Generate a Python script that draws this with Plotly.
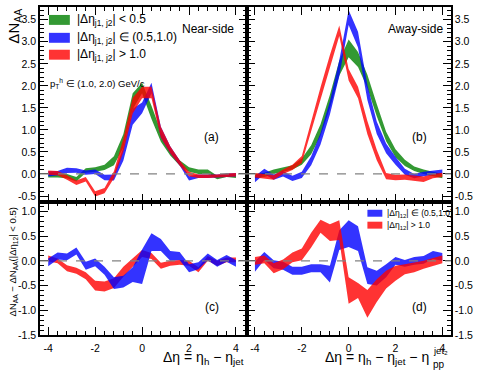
import plotly.graph_objects as go
from plotly.subplots import make_subplots

# eta bins (same for all panels)
deta = [-4.0, -3.6, -3.2, -2.8, -2.4, -2.0, -1.6, -1.2, -0.8, -0.4, 0.0,
        0.4, 0.8, 1.2, 1.6, 2.0, 2.4, 2.8, 3.2, 3.6, 4.0]

# (a) near-side
green_a = [-0.03, -0.03, -0.05, -0.12, 0.08, 0.1, 0.15, 0.3, 0.75, 1.65, 1.95,
           1.4, 0.85, 0.5, 0.25, 0.1, 0.05, 0.05, -0.08, -0.03, -0.05]
green_a_err = [0.05, 0.05, 0.05, 0.05, 0.05, 0.05, 0.06, 0.1, 0.15, 0.18, 0.12,
               0.15, 0.12, 0.08, 0.06, 0.05, 0.05, 0.05, 0.04, 0.04, 0.04]
blue_a = [0.0, 0.02, 0.08, 0.08, 0.03, 0.05, -0.08, -0.08, 0.45, 1.3, 1.5,
          1.95, 0.95, 0.55, 0.25, -0.1, -0.05, -0.05, -0.05, -0.03, -0.02]
blue_a_err = [0.06, 0.05, 0.06, 0.05, 0.05, 0.05, 0.06, 0.07, 0.15, 0.18, 0.12,
              0.12, 0.12, 0.08, 0.06, 0.05, 0.04, 0.04, 0.04, 0.04, 0.04]
red_a = [0.03, 0.02, -0.08, -0.2, -0.12, -0.45, -0.38, -0.02, 0.65, 1.55, 1.85,
         1.85, 0.95, 0.55, 0.25, 0.0, -0.05, -0.05, -0.05, -0.03, -0.02]
red_a_err = [0.05, 0.05, 0.05, 0.05, 0.05, 0.06, 0.06, 0.08, 0.15, 0.18, 0.13,
             0.13, 0.12, 0.08, 0.06, 0.05, 0.04, 0.04, 0.04, 0.04, 0.04]

# (b) away-side
green_b = [-0.05, -0.02, 0.05, 0.1, 0.15, 0.28, 0.55, 1.0, 1.65, 2.4, 2.85,
           2.6, 2.1, 1.45, 0.85, 0.47, 0.25, 0.12, 0.05, 0.0, -0.05]
green_b_err = [0.05, 0.05, 0.05, 0.05, 0.05, 0.07, 0.1, 0.13, 0.15, 0.17, 0.2,
               0.17, 0.15, 0.14, 0.11, 0.09, 0.07, 0.05, 0.05, 0.05, 0.05]
blue_b = [-0.12, 0.06, -0.07, 0.0, -0.1, -0.02, 0.3, 0.8, 1.5, 2.4, 3.55,
          3.05, 1.85, 1.05, 0.58, 0.3, 0.05, -0.05, 0.0, 0.03, 0.05]
blue_b_err = [0.07, 0.06, 0.06, 0.06, 0.06, 0.07, 0.1, 0.13, 0.15, 0.18, 0.17,
              0.18, 0.17, 0.14, 0.11, 0.09, 0.07, 0.05, 0.05, 0.05, 0.05]
red_b = [-0.03, -0.05, -0.08, 0.05, 0.15, 0.33, 1.08, 1.82, 2.55, 3.25, 2.25,
         1.85, 1.05, 0.43, -0.05, -0.08, -0.07, -0.1, -0.12, -0.05, -0.02]
red_b_err = [0.05, 0.05, 0.05, 0.05, 0.06, 0.08, 0.14, 0.15, 0.15, 0.12, 0.13,
             0.13, 0.15, 0.12, 0.07, 0.06, 0.06, 0.06, 0.06, 0.05, 0.05]

# (c) near-side difference
red_c = [0.05, 0.0, -0.15, -0.2, -0.3, -0.5, -0.52, -0.45, -0.22, -0.03, 0.15,
         0.1, -0.1, -0.05, -0.03, -0.05, -0.18, 0.05, -0.05, 0.02, 0.02]
red_c_err = [0.06, 0.05, 0.06, 0.06, 0.07, 0.1, 0.1, 0.1, 0.1, 0.08, 0.07,
             0.06, 0.06, 0.05, 0.05, 0.05, 0.05, 0.05, 0.05, 0.05, 0.05]
blue_c = [-0.03, 0.1, 0.08, 0.2, -0.1, -0.03, -0.2, -0.45, -0.42, -0.28, -0.12,
          0.38, 0.32, 0.1, 0.1, -0.15, -0.1, 0.08, -0.05, 0.05, -0.05]
blue_c_err = [0.08, 0.07, 0.07, 0.07, 0.08, 0.08, 0.08, 0.12, 0.12, 0.15, 0.35,
              0.18, 0.12, 0.1, 0.08, 0.08, 0.07, 0.07, 0.07, 0.07, 0.07]

# (d) away-side difference
blue_d = [-0.12, 0.1, -0.07, -0.1, -0.2, -0.2, -0.15, -0.15, -0.27, 0.42, 0.55,
          0.45, -0.3, -0.35, -0.2, 0.0, -0.05, 0.0, 0.02, 0.12, 0.08]
blue_d_err = [0.1, 0.08, 0.08, 0.08, 0.08, 0.08, 0.08, 0.08, 0.17, 0.2, 0.27,
              0.25, 0.17, 0.15, 0.13, 0.08, 0.07, 0.08, 0.08, 0.08, 0.08]
red_d = [0.0, 0.03, -0.15, -0.07, 0.07, 0.13, 0.42, 0.7, 0.57, 0.62, -0.6,
         -0.6, -0.87, -0.6, -0.38, -0.25, -0.17, -0.13, -0.08, -0.02, 0.03]
red_d_err = [0.08, 0.08, 0.1, 0.1, 0.1, 0.12, 0.15, 0.13, 0.17, 0.2, 0.27,
             0.15, 0.28, 0.23, 0.18, 0.15, 0.1, 0.1, 0.08, 0.08, 0.08]

ytop_ticks = [-0.5, 0.0, 0.5, 1.0, 1.5, 2.0, 2.5, 3.0, 3.5]
ybot_ticks = [-1.5, -1.0, -0.5, 0.0, 0.5, 1.0]
x_ticks = [-4, -2, 0, 2, 4]

GREEN = "rgba(0,128,0,0.8)"
BLUE = "rgba(0,0,255,0.8)"
RED = "rgba(255,0,0,0.8)"
FONT = "Liberation Sans, Arial, sans-serif"

# plot area in pixels: x 40..453, y 5..335
L, R, T, B = 40, 25, 5, 36
W, H = 478, 371
PW, PH = W - L - R, H - T - B


def px(x):
    return (x - L) / PW


def py(y):
    return (H - B - y) / PH


def band(fig, vals, errs, color, row, col):
    up = [v + e for v, e in zip(vals, errs)]
    lo = [v - e for v, e in zip(vals, errs)]
    fig.add_trace(go.Scatter(x=deta + deta[::-1], y=up + lo[::-1], fill="toself",
                             fillcolor=color, mode="lines", line=dict(width=0),
                             hoverinfo="skip", showlegend=False), row=row, col=col)


fig = make_subplots(rows=2, cols=2, horizontal_spacing=0, vertical_spacing=0,
                    column_widths=[208, 205], row_heights=[196, 134])

band(fig, green_a, green_a_err, GREEN, 1, 1)
band(fig, blue_a, blue_a_err, BLUE, 1, 1)
band(fig, red_a, red_a_err, RED, 1, 1)
band(fig, green_b, green_b_err, GREEN, 1, 2)
band(fig, blue_b, blue_b_err, BLUE, 1, 2)
band(fig, red_b, red_b_err, RED, 1, 2)
band(fig, red_c, red_c_err, RED, 2, 1)
band(fig, blue_c, blue_c_err, BLUE, 2, 1)
band(fig, blue_d, blue_d_err, BLUE, 2, 2)
band(fig, red_d, red_d_err, RED, 2, 2)

for r in (1, 2):
    for c in (1, 2):
        fig.add_hline(y=0, line=dict(color="rgb(130,130,130)", width=1.2, dash="dash"),
                      row=r, col=c)

axis_common = dict(showline=True, linecolor="black", linewidth=1.5, mirror="allticks",
                   ticks="inside", ticklen=8, tickwidth=1, tickcolor="black",
                   showgrid=False, zeroline=False,
                   tickfont=dict(family=FONT, size=10.5, color="black"))

for r in (1, 2):
    for c in (1, 2):
        xr = [-4.35, 4.47] if c == 1 else [-4.34, 4.37]
        fig.update_xaxes(range=xr, tickvals=x_ticks, ticktext=[str(t) for t in x_ticks],
                         showticklabels=(r == 2), ticklabelstandoff=3,
                         minor=dict(tickmode="linear", tick0=0, dtick=0.4, ticklen=4,
                                    ticks="inside", tickcolor="black"),
                         **axis_common, row=r, col=c)
        yt = ytop_ticks if r == 1 else ybot_ticks
        yr = [-0.632, 3.79] if r == 1 else [-1.5, 1.195]
        fig.update_yaxes(range=yr, tickvals=yt, ticktext=["%.1f" % t for t in yt],
                         side="left" if c == 1 else "right",
                         minor=dict(tickmode="linear", tick0=0, dtick=0.1, ticklen=4,
                                    ticks="inside", tickcolor="black"),
                         **axis_common, row=r, col=c)


def text(x, y, s, size, xanchor="left", angle=0, yanchor="middle"):
    fig.add_annotation(x=px(x), y=py(y), xref="paper", yref="paper", text=s,
                       showarrow=False, xanchor=xanchor, yanchor=yanchor, textangle=angle,
                       font=dict(family=FONT, size=size, color="black"))


def swatch(x0, x1, y0, y1, color):
    fig.add_shape(type="rect", xref="paper", yref="paper", x0=px(x0), x1=px(x1),
                  y0=py(y1), y1=py(y0), fillcolor=color, line=dict(width=0))


legend_a = [(GREEN, "|Δη<sub>j1, j2</sub>| < 0.5", 18),
            (BLUE, "|Δη<sub>j1, j2</sub>| ∈ (0.5,1.0)", 36),
            (RED, "|Δη<sub>j1, j2</sub>| > 1.0", 53)]
for col, lab, yc in legend_a:
    swatch(49, 70, yc - 5, yc + 5, col)
    text(75, yc, lab, 12)

legend_d = [(BLUE, "|Δη<sub>12</sub>| ∈ (0.5,1.0)", 212.5),
            (RED, "|Δη<sub>12</sub>| > 1.0", 224.5)]
for col, lab, yc in legend_d:
    swatch(369, 384, yc - 3.5, yc + 3.5, col)
    text(387, yc, lab, 8.5)

text(237, 27, "Near-side", 12, xanchor="right")
text(447, 27, "Away-side", 12, xanchor="right")
text(48, 82, "p<sub>T</sub><sup>h</sup> ∈ (1.0, 2.0) GeV/c", 9.5)
text(222, 136, "(a)", 12, xanchor="right")
text(431, 136, "(b)", 12, xanchor="right")
text(222, 307, "(c)", 12, xanchor="right")
text(431, 307, "(d)", 12, xanchor="right")

text(14, 5, "ΔN<sub>AA</sub>", 15, xanchor="center", angle=-90, yanchor="top")
text(13, 205, "ΔN<sub>AA</sub> − ΔN<sub>AA</sub>(|Δη<sub>12</sub>| < 0.5)", 9.5,
     xanchor="center", angle=-90, yanchor="top")
text(247, 358, "Δη = η<sub>h</sub> − η<sub>jet</sub>", 14, xanchor="right")
text(433, 358, "Δη = η<sub>h</sub> − η<sub>jet</sub> − η", 14, xanchor="right")
text(433, 365, "pp", 10)
text(433, 351, "jet₂", 9.5)

fig.update_layout(width=W, height=H, margin=dict(l=L, r=R, t=T, b=B),
                  plot_bgcolor="white", paper_bgcolor="white", showlegend=False)

# drop the browser's default 8px page margin so the figure sits at the window origin
fig.write_html("out.html", config={"displayModeBar": False},
               post_script="document.body.style.margin='0';")
